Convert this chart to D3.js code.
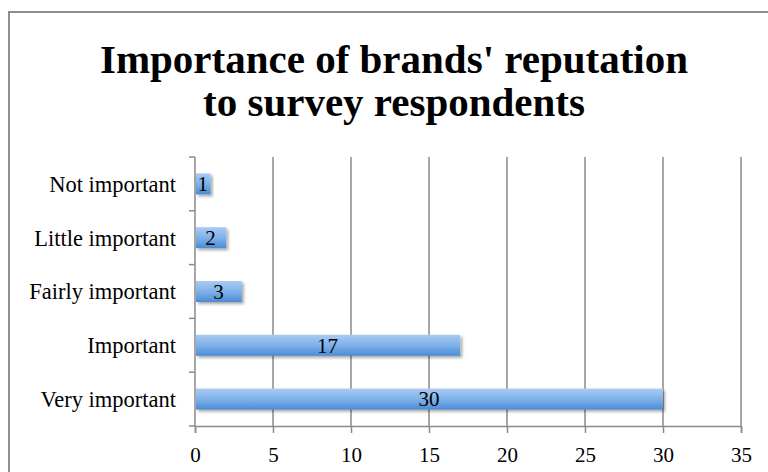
<!DOCTYPE html>
<html>
<head>
<meta charset="utf-8">
<script src="https://cdn.jsdelivr.net/npm/d3@7"></script>
<style>
  body { margin: 0; background: #fff; }
  svg { display: block; }
</style>
</head>
<body>
<svg width="768" height="472"></svg>
<script>
// data
var categories = ['Very important', 'Important', 'Fairly important', 'Little important', 'Not important'];
var counts = [30, 17, 3, 2, 1];
var xTicks = [0, 5, 10, 15, 20, 25, 30, 35];
var titleLines = ["Importance of brands' reputation", 'to survey respondents'];

var data = categories.map(function(c, i){
    return {name: c, value: counts[i]};
});

var svg = d3.select('svg');
var serif = 'Liberation Serif, DejaVu Serif, serif';

var plotLeft = 195, plotRight = 741, plotTop = 157, plotBottom = 426;

// outer frame
svg.append('rect')
    .attr('x', 9)
    .attr('y', 12)
    .attr('width', 790)
    .attr('height', 500)
    .attr('fill', 'none')
    .attr('stroke', '#8e8e8e')
    .attr('stroke-width', 2);

// title
svg.selectAll('text.title')
    .data(titleLines)
    .enter()
    .append('text')
    .attr('class', 'title')
    .attr('x', 394)
    .attr('y', function(d, i){
        return 73 + i * 43
    })
    .attr('text-anchor', 'middle')
    .attr('font-family', serif)
    .attr('font-weight', 'bold')
    .attr('font-size', 41)
    .attr('fill', '#000')
    .text(function(d){
        return d
    });

var x = d3.scaleLinear()
    .domain([0, 35])
    .range([plotLeft, plotRight]);

var y = d3.scaleBand()
    .domain(categories.slice().reverse())
    .range([plotTop, plotBottom]);

// gradient + shadow for bars
var defs = svg.append('defs');
var grad = defs.append('linearGradient')
    .attr('id', 'barGrad')
    .attr('x1', 0).attr('y1', 0)
    .attr('x2', 0).attr('y2', 1);
grad.append('stop').attr('offset', '0%').attr('stop-color', '#a9cbf3');
grad.append('stop').attr('offset', '55%').attr('stop-color', '#7aaee8');
grad.append('stop').attr('offset', '100%').attr('stop-color', '#4b8bd5');

var shadow = defs.append('filter')
    .attr('id', 'shadow')
    .attr('x', '-10%').attr('y', '-30%')
    .attr('width', '130%').attr('height', '190%');
shadow.append('feGaussianBlur')
    .attr('in', 'SourceAlpha')
    .attr('stdDeviation', 1.6);
shadow.append('feOffset')
    .attr('dx', 1.5)
    .attr('dy', 2)
    .attr('result', 'off');
shadow.append('feComponentTransfer')
    .append('feFuncA')
    .attr('type', 'linear')
    .attr('slope', 0.35);
var merge = shadow.append('feMerge');
merge.append('feMergeNode');
merge.append('feMergeNode').attr('in', 'SourceGraphic');

// vertical gridlines
svg.selectAll('line.grid')
    .data(xTicks.slice(1))
    .enter()
    .append('line')
    .attr('class', 'grid')
    .attr('x1', function(d){
        return x(d)
    })
    .attr('x2', function(d){
        return x(d)
    })
    .attr('y1', plotTop)
    .attr('y2', plotBottom)
    .attr('stroke', '#8a8a8a')
    .attr('stroke-width', 1.5);

// x axis
var xAxis = svg.append('g')
    .attr('transform', 'translate(0,' + plotBottom + ')')
    .call(d3.axisBottom(x).tickValues(xTicks).tickSize(7).tickPadding(14));
xAxis.select('.domain').attr('stroke', '#8a8a8a').attr('stroke-width', 1.5);
xAxis.selectAll('.tick line').attr('stroke', '#8a8a8a').attr('stroke-width', 1.5);
xAxis.selectAll('.tick text')
    .attr('font-family', serif)
    .attr('font-size', 21)
    .attr('fill', '#000');

// y axis line and band ticks
svg.append('line')
    .attr('x1', plotLeft).attr('x2', plotLeft)
    .attr('y1', plotTop).attr('y2', plotBottom)
    .attr('stroke', '#8a8a8a')
    .attr('stroke-width', 1.5);

var boundaries = d3.range(categories.length + 1).map(function(i){
    return plotTop + i * y.step()
});
svg.selectAll('line.ytick')
    .data(boundaries)
    .enter()
    .append('line')
    .attr('class', 'ytick')
    .attr('x1', plotLeft - 6)
    .attr('x2', plotLeft)
    .attr('y1', function(d){
        return d
    })
    .attr('y2', function(d){
        return d
    })
    .attr('stroke', '#8a8a8a')
    .attr('stroke-width', 1.5);

// category labels
svg.selectAll('text.cat')
    .data(data)
    .enter()
    .append('text')
    .attr('class', 'cat')
    .attr('x', plotLeft - 19)
    .attr('y', function(d){
        return y(d.name) + y.bandwidth() / 2
    })
    .attr('dy', '0.35em')
    .attr('text-anchor', 'end')
    .attr('font-family', serif)
    .attr('font-size', 22.5)
    .attr('fill', '#000')
    .text(function(d){
        return d.name
    });

// bars
var barH = 21;
svg.selectAll('rect.bar')
    .data(data)
    .enter()
    .append('rect')
    .attr('class', 'bar')
    .attr('x', x(0) + 1)
    .attr('y', function(d){
        return y(d.name) + y.bandwidth() / 2 - barH / 2
    })
    .attr('width', function(d){
        return x(d.value) - x(0) - 1
    })
    .attr('height', barH)
    .attr('fill', 'url(#barGrad)')
    .attr('filter', 'url(#shadow)');

// value labels
svg.selectAll('text.val')
    .data(data)
    .enter()
    .append('text')
    .attr('class', 'val')
    .attr('x', function(d){
        return (x(0) + x(d.value)) / 2
    })
    .attr('y', function(d){
        return y(d.name) + y.bandwidth() / 2
    })
    .attr('dy', '0.35em')
    .attr('text-anchor', 'middle')
    .attr('font-family', serif)
    .attr('font-size', 21)
    .attr('fill', '#000')
    .text(function(d){
        return d.value
    });
</script>
</body>
</html>
